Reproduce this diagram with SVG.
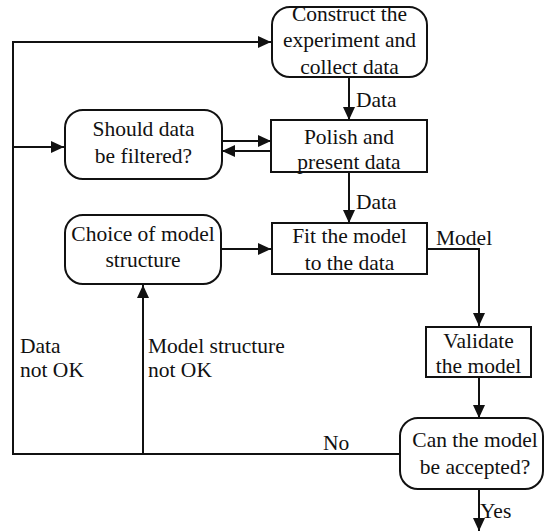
<svg xmlns="http://www.w3.org/2000/svg" width="545" height="531" viewBox="0 0 545 531">
<style>
.box{fill:#fff;stroke:#111;stroke-width:2}
.t{font-family:'Liberation Serif','DejaVu Serif','Times New Roman',serif;font-size:21.5px;fill:#111}
.c{text-anchor:middle}
.ln{fill:none;stroke:#111;stroke-width:2}
</style>
<defs>
<marker id="ah" markerUnits="userSpaceOnUse" markerWidth="14" markerHeight="14" viewBox="0 0 14 14" refX="13" refY="7" orient="auto">
<path d="M0,1 L13,7 L0,13 Z" fill="#111"/>
</marker>
</defs>
<rect width="545" height="531" fill="#fff"/>
<g id="connectors">
<path class="ln" d="M400,454 H13 V42 H271" marker-end="url(#ah)"/>
<path class="ln" d="M13,147 H64" marker-end="url(#ah)"/>
<path class="ln" d="M143,454 V285" marker-end="url(#ah)"/>
<path class="ln" d="M349,77 V120" marker-end="url(#ah)"/>
<path class="ln" d="M222,141 H271" marker-end="url(#ah)"/>
<path class="ln" d="M271,151 H222" marker-end="url(#ah)"/>
<path class="ln" d="M349,172 V223" marker-end="url(#ah)"/>
<path class="ln" d="M221,249 H271" marker-end="url(#ah)"/>
<path class="ln" d="M427,249 H479 V326" marker-end="url(#ah)"/>
<path class="ln" d="M479,377 V418" marker-end="url(#ah)"/>
<path class="ln" d="M479,489 V531" marker-end="url(#ah)"/>
<text class="t" x="356" y="107">Data</text>
<text class="t" x="356" y="209">Data</text>
<text class="t" x="436" y="245">Model</text>
<text class="t" x="323" y="450">No</text>
<text class="t" x="20" y="353">Data</text>
<text class="t" x="20" y="377">not OK</text>
<text class="t" x="148" y="353">Model structure</text>
<text class="t" x="148" y="377">not OK</text>
<text class="t" x="480" y="518">Yes</text>
</g>
<g id="construct">
<rect class="box" x="272" y="7" width="155" height="70" rx="18"/>
<text class="t c" x="349.5" y="21">Construct the</text>
<text class="t c" x="349.5" y="47">experiment and</text>
<text class="t c" x="349.5" y="74">collect data</text>
</g>
<g id="polish">
<rect class="box" x="271" y="120" width="156" height="52"/>
<text class="t c" x="349" y="144">Polish and</text>
<text class="t c" x="349" y="169">present data</text>
</g>
<g id="filter">
<rect class="box" x="65" y="110" width="157" height="69" rx="18"/>
<text class="t c" x="143.5" y="136">Should data</text>
<text class="t c" x="143.5" y="163">be filtered?</text>
</g>
<g id="choice">
<rect class="box" x="65" y="215" width="156" height="69" rx="18"/>
<text class="t c" x="143" y="241">Choice of model</text>
<text class="t c" x="143" y="267">structure</text>
</g>
<g id="fit">
<rect class="box" x="272" y="223" width="155" height="51"/>
<text class="t c" x="349.5" y="243">Fit the model</text>
<text class="t c" x="349.5" y="270">to the data</text>
</g>
<g id="validate">
<rect class="box" x="426" y="327" width="105" height="50"/>
<text class="t c" x="478.5" y="348">Validate</text>
<text class="t c" x="478.5" y="373">the model</text>
</g>
<g id="accept">
<rect class="box" x="400" y="418" width="143" height="71" rx="18"/>
<text class="t c" x="475" y="447">Can the model</text>
<text class="t c" x="475" y="474">be accepted?</text>
</g>
</svg>
